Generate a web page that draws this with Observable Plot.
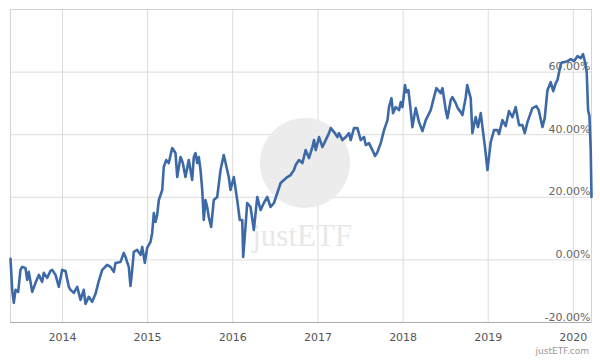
<!DOCTYPE html>
<html><head><meta charset="utf-8">
<script src="https://cdn.jsdelivr.net/npm/d3@7"></script>
<script src="https://cdn.jsdelivr.net/npm/@observablehq/plot@0.6"></script>
<style>
body{margin:0;background:#fff;font-family:"DejaVu Sans",sans-serif;}
#chart{width:600px;height:360px;position:relative;overflow:hidden;}
#caption{position:absolute;right:11px;top:346px;font-size:9px;color:#999;font-family:"DejaVu Sans",sans-serif;}
</style></head><body><div id="chart"><div id="caption">justETF.com</div></div>
<script>
// decimal years
const years = [2013.389,2013.409,2013.428,2013.448,2013.479,2013.506,2013.526,2013.565,2013.585,2013.604,
2013.644,2013.683,2013.722,2013.761,2013.780,2013.820,2013.859,2013.879,2013.918,2013.957,
2013.996,2014.035,2014.074,2014.094,2014.133,2014.173,2014.212,2014.250,2014.270,2014.309,
2014.349,2014.388,2014.427,2014.467,2014.525,2014.564,2014.603,2014.623,2014.682,2014.720,
2014.740,2014.779,2014.799,2014.819,2014.838,2014.878,2014.917,2014.937,2014.967,2014.995,
2015.034,2015.054,2015.073,2015.093,2015.113,2015.132,2015.172,2015.190,2015.219,2015.249,
2015.289,2015.328,2015.348,2015.387,2015.414,2015.445,2015.484,2015.524,2015.543,2015.563,
2015.583,2015.602,2015.622,2015.642,2015.660,2015.680,2015.700,2015.719,2015.747,2015.778,
2015.818,2015.857,2015.895,2015.935,2015.954,2015.974,2016.013,2016.053,2016.083,2016.112,
2016.123,2016.150,2016.170,2016.209,2016.248,2016.288,2016.327,2016.365,2016.405,2016.444,
2016.483,2016.523,2016.562,2016.601,2016.640,2016.679,2016.718,2016.738,2016.777,2016.817,
2016.855,2016.894,2016.934,2016.953,2016.973,2017.012,2017.052,2017.090,2017.129,2017.149,
2017.188,2017.228,2017.247,2017.287,2017.326,2017.364,2017.384,2017.423,2017.463,2017.502,
2017.541,2017.561,2017.599,2017.639,2017.670,2017.698,2017.737,2017.776,2017.816,2017.834,
2017.863,2017.881,2017.913,2017.952,2017.972,2017.992,2018.022,2018.039,2018.062,2018.089,
2018.109,2018.148,2018.187,2018.227,2018.266,2018.324,2018.363,2018.391,2018.442,2018.462,
2018.501,2018.521,2018.559,2018.579,2018.618,2018.642,2018.677,2018.697,2018.736,2018.753,
2018.794,2018.814,2018.853,2018.880,2018.912,2018.941,2018.962,2018.991,2019.029,2019.068,
2019.108,2019.127,2019.167,2019.206,2019.244,2019.284,2019.323,2019.362,2019.402,2019.429,
2019.461,2019.519,2019.566,2019.593,2019.637,2019.664,2019.696,2019.734,2019.764,2019.793,
2019.813,2019.852,2019.872,2019.891,2019.931,2019.969,2020.008,2020.048,2020.087,2020.114,
2020.138,2020.157,2020.173,2020.189,2020.204,2020.213];
// performance in percent
const values = [0.32,-9.57,-13.72,-9.57,-10.21,-3.19,-2.23,-2.55,-6.38,-3.83,
-10.21,-7.34,-4.79,-7.02,-4.15,-5.74,-3.51,-3.19,-4.79,-8.61,
-3.19,-3.51,-8.61,-9.57,-10.53,-8.61,-12.76,-9.57,-14.04,-11.80,
-13.40,-10.85,-6.70,-3.19,-1.60,-2.23,-3.83,-0.96,-0.64,2.23,
0.96,-2.23,-8.29,-3.19,2.55,3.19,1.60,4.15,-0.96,3.83,
5.74,8.61,14.99,12.12,14.36,19.14,22.33,29.67,31.90,30.94,
35.73,34.13,26.48,32.86,30.94,26.48,31.90,25.52,32.86,34.13,
30.94,32.86,28.71,22.33,12.76,19.14,16.91,13.72,10.53,19.14,
20.10,28.71,33.50,28.71,26.48,22.33,26.48,19.14,12.76,12.76,
0.96,10.53,18.18,16.91,9.57,20.10,15.95,18.18,20.10,16.91,
18.18,21.37,24.56,25.52,26.48,27.12,28.71,30.31,31.90,30.94,
35.09,32.54,36.05,38.28,35.09,39.24,36.05,38.28,40.51,42.11,
40.83,39.24,40.51,38.28,39.24,40.51,38.28,42.11,42.11,38.28,
39.24,36.69,37.32,35.09,33.18,34.45,37.32,41.47,44.66,48.81,
51.68,46.89,48.81,47.85,50.40,48.81,55.83,53.59,54.23,47.85,
42.43,48.49,44.02,41.15,44.66,47.85,52.00,54.87,53.27,54.87,
47.85,45.30,51.04,52.00,50.08,48.49,47.21,46.26,52.00,55.83,
51.68,40.51,45.62,42.43,46.89,40.51,36.05,28.71,37.64,41.47,
41.47,40.19,44.66,42.75,47.53,45.62,48.81,43.07,43.07,40.51,
44.02,48.49,49.13,47.85,42.43,45.30,54.23,56.78,53.91,56.46,
57.42,62.52,63.16,63.16,63.48,64.12,63.48,65.08,64.44,65.71,
63.16,59.97,47.85,45.94,35.09,20.10];
const yTicks = [-20, 0, 20, 40, 60];
const yGrid = [-20, 0, 20, 40, 60, 80];
const xTickYears = [2014, 2015, 2016, 2017, 2018, 2019, 2020];

function toDate(t) {
  const y = Math.floor(t);
  const s = Date.UTC(y, 0, 1), e = Date.UTC(y + 1, 0, 1);
  return new Date(s + (t - y) * (e - s));
}
const data = years.map((t, i) => ({date: toDate(t), value: values[i]}));
const xTicks = xTickYears.map(y => new Date(Date.UTC(y, 0, 1)));

const chart = Plot.plot({
  width: 600, height: 345,
  marginTop: 9, marginBottom: 23, marginLeft: 10, marginRight: 9,
  style: {fontFamily: "DejaVu Sans, sans-serif", fontSize: "11px", background: "#fff"},
  x: {type: "utc", domain: [data[0].date, data[data.length - 1].date], axis: null},
  y: {domain: [-20, 80], axis: null},
  marks: [
    Plot.gridX(xTicks, {stroke: "#dcdcdc", strokeOpacity: 1}),
    Plot.gridY(yGrid, {stroke: "#dcdcdc", strokeOpacity: 1}),
    Plot.frame({stroke: "#d4d4d4"}),
    Plot.dot([0], {frameAnchor: "middle", r: 45, fill: "#ececec", stroke: "none", dx: 4, dy: -3}),
    Plot.text(["just"], {frameAnchor: "middle", text: d => d, textAnchor: "end", lineAnchor: "bottom", dx: -4, dy: 80, fontFamily: "Liberation Serif, serif", fontSize: 31, fill: "#e8e8e8"}),
    Plot.text(["ETF"], {frameAnchor: "middle", text: d => d, textAnchor: "start", lineAnchor: "bottom", dx: -4, dy: 80, fontFamily: "Liberation Serif, serif", fontSize: 31, fill: "#e8e8e8"}),
    Plot.text(yTicks, {frameAnchor: "right", y: d => d, text: d => d.toFixed(2) + "%", textAnchor: "end", lineAnchor: "bottom", dx: -1, dy: -2, fill: "#666", fontSize: 11}),
    Plot.line(data, {x: "date", y: "value", stroke: "#3d6aa7", strokeWidth: 2.6, strokeLinejoin: "round"}),
    Plot.ruleY([-20], {stroke: "#aaa"}),
    Plot.axisX(xTicks, {tickSize: 0, tickPadding: 11, tickFormat: d => String(d.getUTCFullYear()), fill: "#555", fontSize: 11, label: null})
  ]
});
document.getElementById("chart").prepend(chart);
</script>
</body></html>
